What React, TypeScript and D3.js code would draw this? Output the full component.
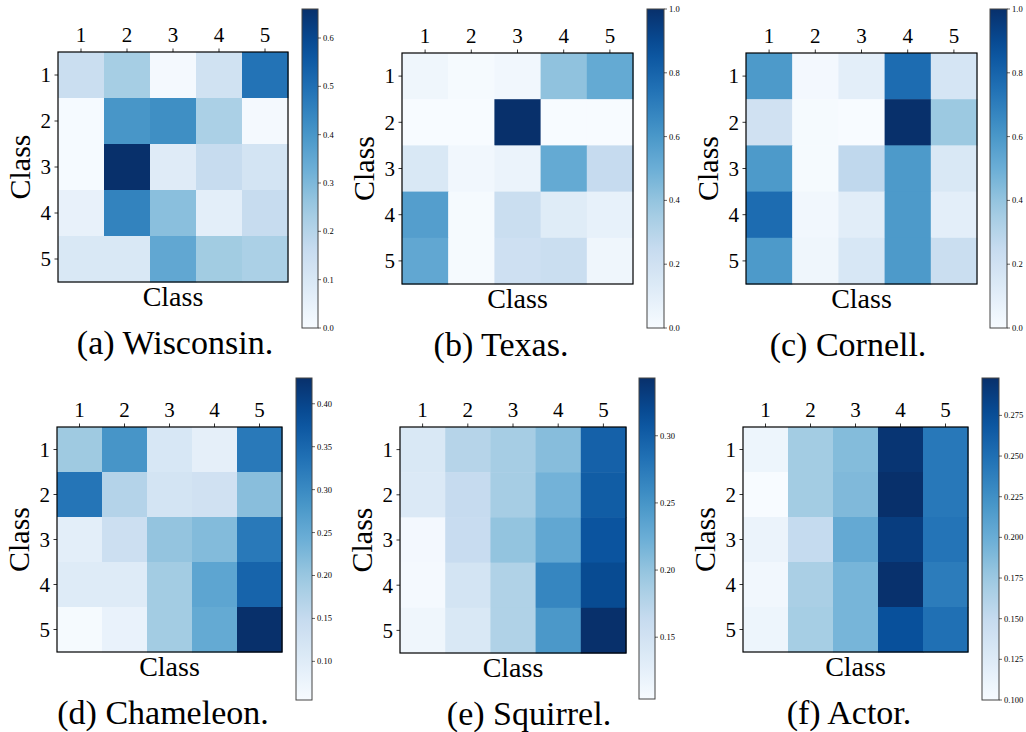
import React from "react";
import * as d3 from "d3";

// ---- data ----
const classes = ["1", "2", "3", "4", "5"];

const wisconsin = [
  [0.15, 0.23, 0.01, 0.13, 0.49],
  [0.005, 0.4, 0.42, 0.22, 0.01],
  [0.005, 0.66, 0.08, 0.16, 0.12],
  [0.05, 0.45, 0.28, 0.065, 0.16],
  [0.1, 0.1, 0.35, 0.24, 0.22],
];
const texas = [
  [0.04, 0.01, 0.03, 0.41, 0.52],
  [0.0, 0.0, 1.0, 0.0, 0.0],
  [0.15, 0.03, 0.06, 0.52, 0.25],
  [0.57, 0.01, 0.23, 0.12, 0.08],
  [0.53, 0.01, 0.21, 0.23, 0.04],
];
const cornell = [
  [0.59, 0.02, 0.1, 0.77, 0.17],
  [0.2, 0.01, 0.0, 1.0, 0.38],
  [0.59, 0.01, 0.27, 0.59, 0.15],
  [0.77, 0.03, 0.11, 0.59, 0.1],
  [0.59, 0.04, 0.16, 0.59, 0.23],
];
const chameleon = [
  [0.195, 0.284, 0.115, 0.089, 0.325],
  [0.33, 0.17, 0.123, 0.13, 0.215],
  [0.093, 0.138, 0.205, 0.22, 0.325],
  [0.102, 0.102, 0.19, 0.258, 0.355],
  [0.059, 0.081, 0.19, 0.25, 0.43],
];
const squirrel = [
  [0.14, 0.176, 0.188, 0.207, 0.298],
  [0.137, 0.164, 0.188, 0.219, 0.302],
  [0.109, 0.161, 0.2, 0.231, 0.31],
  [0.108, 0.147, 0.18, 0.264, 0.319],
  [0.114, 0.14, 0.18, 0.247, 0.343],
];
const actor = [
  [0.11, 0.171, 0.187, 0.294, 0.243],
  [0.1, 0.171, 0.189, 0.298, 0.243],
  [0.112, 0.15, 0.203, 0.288, 0.246],
  [0.106, 0.167, 0.193, 0.297, 0.24],
  [0.11, 0.169, 0.193, 0.274, 0.249],
];

const captions = ["(a) Wisconsin.", "(b) Texas.", "(c) Cornell.", "(d) Chameleon.", "(e) Squirrel.", "(f) Actor."];
const domains: [number, number][] = [
  [0, 0.66],
  [0, 1.0],
  [0, 1.0],
  [0.055, 0.43],
  [0.104, 0.343],
  [0.1, 0.298],
];
const cbTicks = [
  [0.0, 0.1, 0.2, 0.3, 0.4, 0.5, 0.6],
  [0.0, 0.2, 0.4, 0.6, 0.8, 1.0],
  [0.0, 0.2, 0.4, 0.6, 0.8, 1.0],
  [0.1, 0.15, 0.2, 0.25, 0.3, 0.35, 0.4],
  [0.15, 0.2, 0.25, 0.3],
  [0.1, 0.125, 0.15, 0.175, 0.2, 0.225, 0.25, 0.275],
];
const cbFormats = [".1f", ".1f", ".1f", ".2f", ".2f", ".3f"];
const matrices = [wisconsin, texas, cornell, chameleon, squirrel, actor];

// ---- layout ----
const layout = [
  { hx: 58, hy: 52, s: 230, cx: 302, cy: 9, cw: 16, ch: 319, capX: 175 },
  { hx: 402, hy: 53, s: 231, cx: 647, cy: 9, cw: 17, ch: 319, capX: 501 },
  { hx: 746, hy: 53, s: 231, cx: 990, cy: 9, cw: 17, ch: 319, capX: 848 },
  { hx: 57, hy: 427, s: 225, cx: 296, cy: 378, cw: 16, ch: 322, capX: 163 },
  { hx: 400, hy: 427, s: 226, cx: 639, cy: 378, cw: 16, ch: 321, capX: 529 },
  { hx: 743, hy: 427, s: 225, cx: 982, cy: 378, cw: 17, ch: 322, capX: 849 },
];

const bluesColors = ["#f7fbff", "#deebf7", "#c6dbef", "#9ecae1", "#6baed6", "#4292c6", "#2171b5", "#08519c", "#08306b"];
const blues = d3.piecewise(d3.interpolateRgb, bluesColors);

const FONT =
  "'Liberation Serif', 'Noto Serif', 'DejaVu Serif', 'FreeSerif', 'Nimbus Roman', 'Nimbus Roman No9 L', 'Times New Roman', Times, Georgia, serif";

function Panel({ idx }: { idx: number }) {
  const L = layout[idx];
  const m = matrices[idx];
  const [vmin, vmax] = domains[idx];
  const x = d3.scaleBand().domain(classes).range([L.hx, L.hx + L.s]);
  const y = d3.scaleBand().domain(classes).range([L.hy, L.hy + L.s]);
  const color = d3.scaleSequential(blues).domain([vmin, vmax]);
  const cbY = d3.scaleLinear().domain([vmin, vmax]).range([L.cy + L.ch, L.cy]);
  const fmt = d3.format(cbFormats[idx]);
  const gid = `grad${idx}`;
  const stops = d3.range(0, 1.0001, 0.05);
  const bottom = L.hy + L.s;
  return (
    <g>
      <defs>
        <linearGradient id={gid} x1="0" y1="1" x2="0" y2="0">
          {stops.map((t) => (
            <stop key={t} offset={t} stopColor={blues(t)} />
          ))}
        </linearGradient>
      </defs>
      {m.map((row, i) =>
        row.map((v, j) => (
          <rect
            key={`${i}-${j}`}
            x={x(classes[j])}
            y={y(classes[i])}
            width={x.bandwidth() + 0.5}
            height={y.bandwidth() + 0.5}
            fill={color(v)}
          />
        ))
      )}
      <rect x={L.hx} y={L.hy} width={L.s} height={L.s} fill="none" stroke="#000" strokeWidth={1.2} />
      {classes.map((c) => {
        const cx = (x(c) as number) + x.bandwidth() / 2;
        const cy = (y(c) as number) + y.bandwidth() / 2;
        return (
          <g key={c}>
            <line x1={cx} x2={cx} y1={L.hy} y2={L.hy - 3.5} stroke="#000" strokeWidth={0.8} />
            <text x={cx} y={L.hy - 10} textAnchor="middle" fontSize={21}>
              {c}
            </text>
            <line x1={L.hx} x2={L.hx - 3.5} y1={cy} y2={cy} stroke="#000" strokeWidth={0.8} />
            <text x={L.hx - 7} y={cy} dy="0.35em" textAnchor="end" fontSize={21}>
              {c}
            </text>
          </g>
        );
      })}
      <text
        transform={`translate(${L.hx - 28},${L.hy + L.s / 2}) rotate(-90)`}
        textAnchor="middle"
        fontSize={30}
      >
        Class
      </text>
      <text x={L.hx + L.s / 2} y={bottom + 24} textAnchor="middle" fontSize={28}>
        Class
      </text>
      <text x={L.capX} y={bottom + 72} textAnchor="middle" fontSize={34}>
        {captions[idx]}
      </text>
      <rect x={L.cx} y={L.cy} width={L.cw} height={L.ch} fill={`url(#${gid})`} stroke="#444" strokeWidth={1} />
      {cbTicks[idx].map((t) => (
        <g key={t}>
          <line x1={L.cx + L.cw} x2={L.cx + L.cw + 3} y1={cbY(t)} y2={cbY(t)} stroke="#000" strokeWidth={0.6} />
          <text x={L.cx + L.cw + 5} y={cbY(t)} dy="0.35em" fontSize={8.5}>
            {fmt(t)}
          </text>
        </g>
      ))}
    </g>
  );
}

export default function App() {
  return (
    <svg
      width={1026}
      height={732}
      fontFamily={FONT}
      style={{ position: "absolute", left: 0, top: 0, background: "#fff" }}
    >
      <rect width={1026} height={732} fill="#fff" />
      {layout.map((_, i) => (
        <Panel key={i} idx={i} />
      ))}
    </svg>
  );
}
